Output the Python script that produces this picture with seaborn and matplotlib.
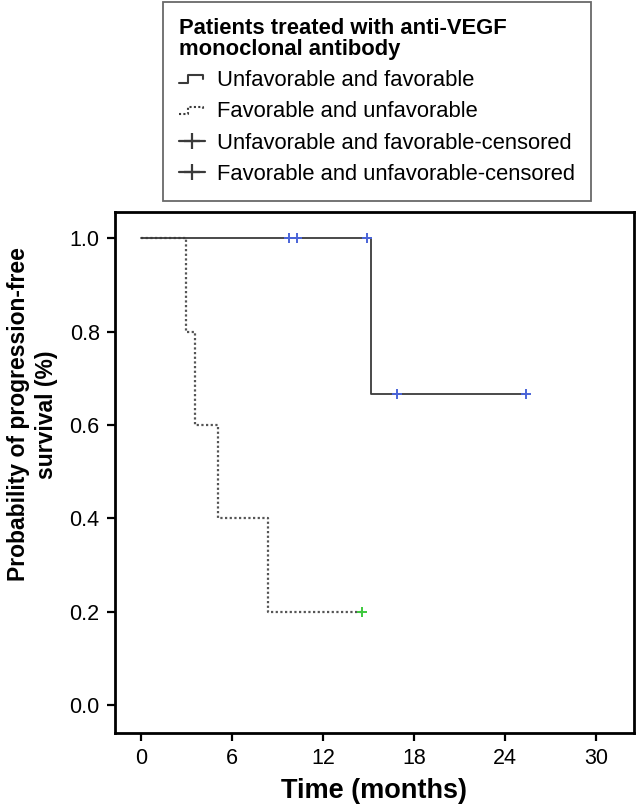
import numpy as np
import pandas as pd
import matplotlib
matplotlib.use("Agg")
import matplotlib.pyplot as plt
import seaborn as sns
from matplotlib.lines import Line2D
from matplotlib.legend_handler import HandlerBase

# Kaplan-Meier step data
unfav_fav_time = [0.0, 15.2, 25.4]
unfav_fav_surv = [1.0, 0.667, 0.667]
fav_unfav_time = [0.0, 3.0, 3.6, 5.1, 8.4, 14.6]
fav_unfav_surv = [1.0, 0.8, 0.6, 0.4, 0.2, 0.2]

# censored observations
cens_uf_time = [9.8, 10.3, 14.9, 16.9, 25.4]
cens_uf_surv = [1.0, 1.0, 1.0, 0.667, 0.667]
cens_fu_time = [14.6]
cens_fu_surv = [0.2]

x_ticks = [0, 6, 12, 18, 24, 30]
y_ticks = [0.0, 0.2, 0.4, 0.6, 0.8, 1.0]

labels = ["Unfavorable and favorable", "Favorable and unfavorable",
          "Unfavorable and favorable-censored", "Favorable and unfavorable-censored"]
legend_title = "Patients treated with anti-VEGF\nmonoclonal antibody"

LINE_COLOR = "#3a3a3a"
BLUE = "#4a64d8"
GREEN = "#3cc83c"
DOTS = (0, (1, 1.1))


class StepHandler(HandlerBase):
    def __init__(self, linestyle):
        super().__init__()
        self.linestyle = linestyle

    def create_artists(self, legend, orig_handle, xdescent, ydescent,
                       width, height, fontsize, trans):
        w, h = width, height
        xs = [0, 0.35 * w, 0.35 * w, 0.9 * w, 0.9 * w]
        ys = [0.2 * h, 0.2 * h, 0.7 * h, 0.7 * h, 0.45 * h]
        line = Line2D(xs, ys, color=LINE_COLOR, lw=1.5, linestyle=self.linestyle,
                      transform=trans)
        return [line]


def main():
    sns.set_style("white")
    plt.rcParams["font.family"] = ["Liberation Sans", "DejaVu Sans"]
    plt.rcParams["text.color"] = "black"
    plt.rcParams["axes.labelcolor"] = "black"
    plt.rcParams["xtick.color"] = "black"
    plt.rcParams["ytick.color"] = "black"

    curves = pd.DataFrame({
        "time": unfav_fav_time + fav_unfav_time,
        "surv": unfav_fav_surv + fav_unfav_surv,
        "group": [labels[0]] * len(unfav_fav_time) + [labels[1]] * len(fav_unfav_time),
    })

    fig = plt.figure(figsize=(6.37, 8.10), dpi=100)
    ax = fig.add_axes([0.1805, 0.095, 0.8145, 0.643])

    sns.lineplot(data=curves[curves.group == labels[1]], x="time", y="surv",
                 drawstyle="steps-post", color="#555555", lw=1.6,
                 linestyle=DOTS, estimator=None, ax=ax, legend=False)
    sns.lineplot(data=curves[curves.group == labels[0]], x="time", y="surv",
                 drawstyle="steps-post", color=LINE_COLOR, lw=1.3,
                 estimator=None, ax=ax, legend=False)

    sns.scatterplot(x=cens_uf_time, y=cens_uf_surv, marker="+", s=55,
                    color=BLUE, linewidth=1.4, ax=ax, legend=False, zorder=5)
    sns.scatterplot(x=cens_fu_time, y=cens_fu_surv, marker="+", s=55,
                    color=GREEN, linewidth=1.4, ax=ax, legend=False, zorder=5)

    ax.set_xlim(-1.7, 32.5)
    ax.set_ylim(-0.06, 1.056)
    ax.set_xticks(x_ticks)
    ax.set_yticks(y_ticks)
    ax.set_yticklabels([f"{v:.1f}" for v in y_ticks])
    ax.tick_params(axis="both", direction="out", length=6, width=1.6,
                   labelsize=15.5, color="black", left=True, bottom=True, pad=5)
    for sp in ax.spines.values():
        sp.set_linewidth(2.0)
        sp.set_color("black")

    ax.set_xlabel("Time (months)", fontsize=19.5, fontweight="bold", labelpad=6)
    ax.set_ylabel("Probability of progression-free\nsurvival (%)", fontsize=16.5,
                  fontweight="bold", linespacing=1.25)
    ax.yaxis.set_label_coords(-0.11, 0.612)

    step_solid = Line2D([], [])
    step_dot = Line2D([], [])
    h3 = Line2D([], [], color=LINE_COLOR, lw=1.6, marker="+", markersize=12,
                markeredgewidth=1.6)
    h4 = Line2D([], [], color=LINE_COLOR, lw=1.6, marker="+", markersize=12,
                markeredgewidth=1.6)
    leg = fig.legend([step_solid, step_dot, h3, h4], labels,
                     handler_map={step_solid: StepHandler("-"),
                                  step_dot: StepHandler(DOTS)},
                     loc="upper left", bbox_to_anchor=(0.256, 0.9975),
                     title=legend_title, alignment="left",
                     fontsize=15.8, title_fontproperties={"weight": "bold", "size": 15.8},
                     frameon=True, fancybox=False, edgecolor="#444444",
                     borderpad=0.72, borderaxespad=0, handlelength=1.2,
                     handletextpad=0.55, labelspacing=0.47)
    leg.get_frame().set_linewidth(1.3)
    leg.get_title().set_linespacing(1.0)

    fig.savefig("out.png", dpi=100)


if __name__ == "__main__":
    main()
